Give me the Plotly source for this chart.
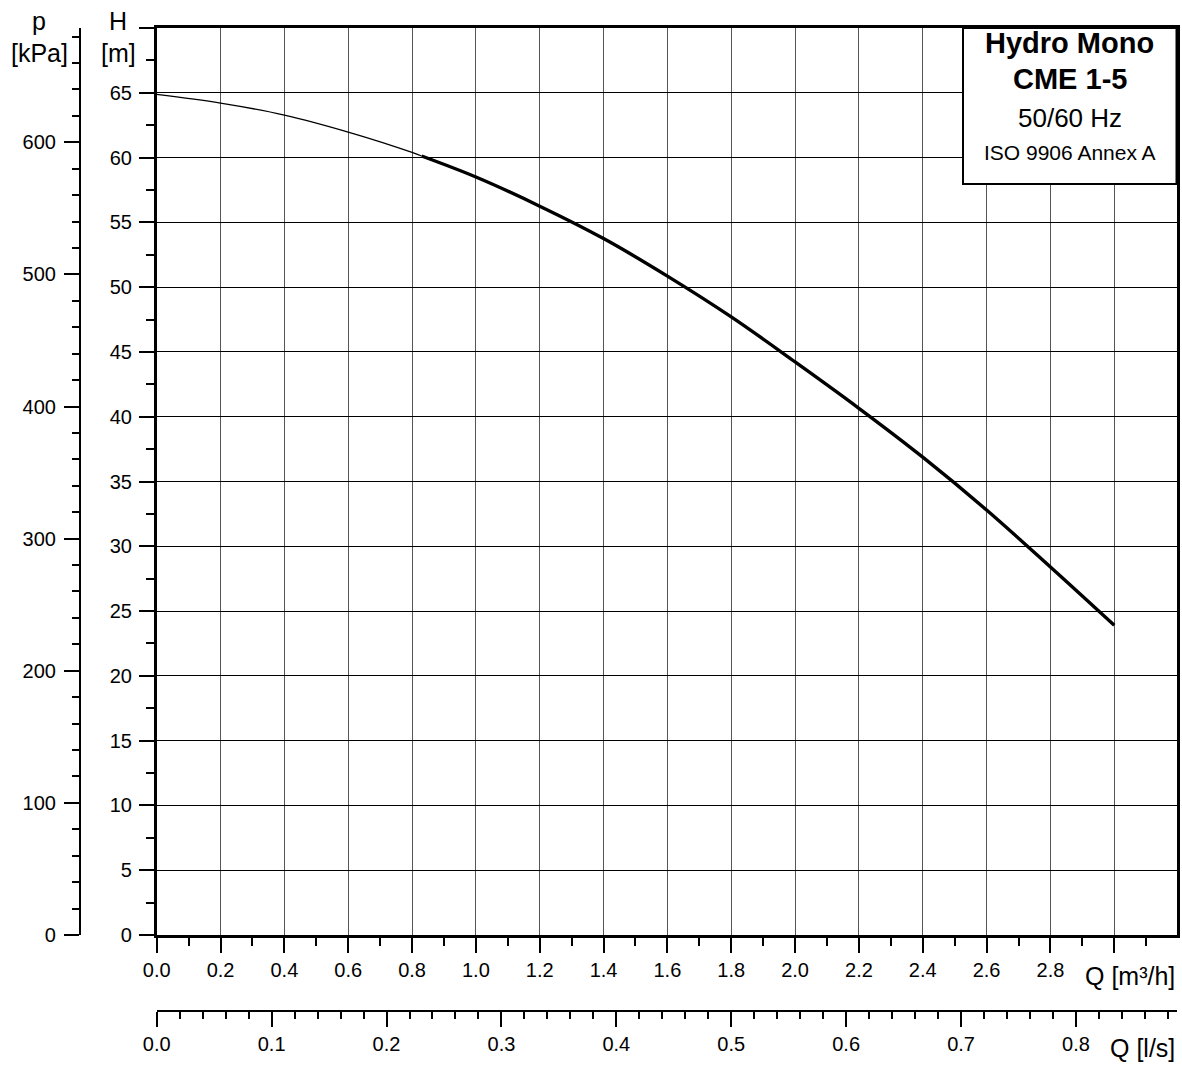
import plotly.graph_objects as go

W, HP = 1182, 1066

# ---- data ----
q_thin = [0.0, 0.2, 0.4, 0.6, 0.8, 0.83]
h_thin = [64.87, 64.2, 63.28, 61.97, 60.4, 60.12]
q_thick = [0.83, 1.0, 1.2, 1.4, 1.6, 1.8, 2.0, 2.2, 2.4, 2.6, 2.8, 3.0]
h_thick = [60.12, 58.5, 56.25, 53.75, 50.85, 47.7, 44.23, 40.65, 36.88, 32.8, 28.4, 23.9]

q_tick_vals = [0.0, 0.2, 0.4, 0.6, 0.8, 1.0, 1.2, 1.4, 1.6, 1.8, 2.0, 2.2, 2.4, 2.6, 2.8, 3.0]
q_tick_text = ["0.0", "0.2", "0.4", "0.6", "0.8", "1.0", "1.2", "1.4", "1.6", "1.8",
               "2.0", "2.2", "2.4", "2.6", "2.8", ""]
qls_tick_vals = [0.0, 0.1, 0.2, 0.3, 0.4, 0.5, 0.6, 0.7, 0.8]
qls_tick_text = ["0.0", "0.1", "0.2", "0.3", "0.4", "0.5", "0.6", "0.7", "0.8"]
h_tick_vals = [0, 5, 10, 15, 20, 25, 30, 35, 40, 45, 50, 55, 60, 65, 70]
h_tick_text = ["0", "5", "10", "15", "20", "25", "30", "35", "40", "45", "50", "55", "60", "65", ""]
p_tick_vals = [0, 100, 200, 300, 400, 500, 600]
p_tick_text = ["0", "100", "200", "300", "400", "500", "600"]

box_lines = ["<b>Hydro Mono</b>", "<b>CME 1-5</b>", "50/60 Hz", "ISO 9906 Annex A"]

M3H_PER_LS = 3.6
KPA_PER_M = 9.80665
Q_MAX = 3.195
H_MAX = 70

# minor tick positions
q_minor = [round(0.1 + 0.2 * i, 3) for i in range(16)]
qls_minor = [round(0.02 * i, 3) for i in range(1, 45) if i % 5 != 0]
h_minor = [2.5 + 5 * i for i in range(14)]
p_minor = [20 * i for i in range(1, 35) if i % 5 != 0]


def px(x):
    return x / W


def py(y):
    return 1 - y / HP


FONT = "Liberation Sans, Arial, sans-serif"

fig = go.Figure()
fig.add_trace(go.Scatter(x=q_thin, y=h_thin, mode="lines", line=dict(color="black", width=1.3, shape="spline"),
                         hoverinfo="skip", showlegend=False))
fig.add_trace(go.Scatter(x=q_thick, y=h_thick, mode="lines", line=dict(color="black", width=3.4, shape="spline"),
                         hoverinfo="skip", showlegend=False))
# invisible companion traces so the secondary axes are drawn
fig.add_trace(go.Scatter(x=[q / M3H_PER_LS for q in q_thick], y=h_thick, xaxis="x2", yaxis="y",
                         mode="lines", opacity=0, hoverinfo="skip", showlegend=False))
fig.add_trace(go.Scatter(x=q_thick, y=[h * KPA_PER_M for h in h_thick], xaxis="x", yaxis="y2",
                         mode="lines", opacity=0, hoverinfo="skip", showlegend=False))

xdom = [px(156.7), px(1176.5)]
ydom = [py(935), py(28)]

tickfont = dict(family=FONT, size=20, color="black")

fig.update_layout(
    width=W, height=HP, autosize=False,
    margin=dict(l=0, r=0, t=0, b=0, autoexpand=False),
    paper_bgcolor="white", plot_bgcolor="white",
    font=dict(family=FONT, color="black"),
    xaxis=dict(
        domain=xdom, range=[0, Q_MAX], anchor="y", automargin=False,
        tickmode="array", tickvals=q_tick_vals, ticktext=q_tick_text,
        ticks="outside", ticklen=15, tickwidth=2, tickcolor="black",
        minor=dict(tickmode="array", tickvals=q_minor, ticks="outside", ticklen=8, tickwidth=1.5,
                   tickcolor="black", showgrid=False),
        showgrid=True, gridcolor="#555555", gridwidth=1.4,
        showline=True, linecolor="black", linewidth=2.6, mirror=True,
        zeroline=False, tickfont=tickfont,
    ),
    xaxis2=dict(
        domain=xdom, range=[0, Q_MAX / M3H_PER_LS], overlaying="x", anchor="free", position=py(1011),
        side="bottom", automargin=False,
        tickmode="array", tickvals=qls_tick_vals, ticktext=qls_tick_text,
        ticks="outside", ticklen=15, tickwidth=2, tickcolor="black",
        minor=dict(tickmode="array", tickvals=qls_minor, ticks="outside", ticklen=7, tickwidth=1.5,
                   tickcolor="black", showgrid=False),
        showgrid=False, showline=True, linecolor="black", linewidth=2.4,
        zeroline=False, tickfont=tickfont,
    ),
    yaxis=dict(
        domain=ydom, range=[0, H_MAX], anchor="x", automargin=False,
        tickmode="array", tickvals=h_tick_vals, ticktext=h_tick_text,
        ticks="outside", ticklen=15, tickwidth=2, tickcolor="black",
        minor=dict(tickmode="array", tickvals=h_minor, ticks="outside", ticklen=8, tickwidth=1.5,
                   tickcolor="black", showgrid=False),
        showgrid=True, gridcolor="black", gridwidth=1,
        showline=True, linecolor="black", linewidth=2.6, mirror=True,
        zeroline=False, tickfont=tickfont, ticklabelstandoff=3,
    ),
    yaxis2=dict(
        domain=ydom, range=[0, H_MAX * KPA_PER_M], overlaying="y", anchor="free", position=px(80),
        side="left", automargin=False,
        tickmode="array", tickvals=p_tick_vals, ticktext=p_tick_text,
        ticks="outside", ticklen=15, tickwidth=2, tickcolor="black",
        minor=dict(tickmode="array", tickvals=p_minor, ticks="outside", ticklen=7, tickwidth=1.5,
                   tickcolor="black", showgrid=False),
        showgrid=False, showline=True, linecolor="black", linewidth=2.2,
        zeroline=False, tickfont=tickfont, ticklabelstandoff=4,
    ),
)

# info box
fig.add_shape(type="rect", xref="paper", yref="paper",
              x0=px(963), x1=px(1176.5), y0=py(184), y1=py(28),
              fillcolor="white", line=dict(color="black", width=2), layer="above")

box_cx = px(1069.5)
box_y = [43, 79, 118, 152]
box_size = [29, 29, 26, 21]
for txt, yy, sz in zip(box_lines, box_y, box_size):
    fig.add_annotation(x=box_cx, y=py(yy), xref="paper", yref="paper", text=txt, showarrow=False,
                       xanchor="center", yanchor="middle", font=dict(family=FONT, size=sz, color="black"))

titles = [
    ("p", 39, 20.5, "center"),
    ("[kPa]", 39, 52.5, "center"),
    ("H", 118, 20.5, "center"),
    ("[m]", 118, 52.5, "center"),
]
for txt, xx, yy, xa in titles:
    fig.add_annotation(x=px(xx), y=py(yy), xref="paper", yref="paper", text=txt, showarrow=False,
                       xanchor=xa, yanchor="middle", font=dict(family=FONT, size=25, color="black"))

fig.add_annotation(x=px(1177), y=py(976), xref="paper", yref="paper", text="Q [m³/h]", showarrow=False,
                   xanchor="right", yanchor="middle", font=dict(family=FONT, size=25, color="black"))
fig.add_annotation(x=px(1177), y=py(1048), xref="paper", yref="paper", text="Q [l/s]", showarrow=False,
                   xanchor="right", yanchor="middle", font=dict(family=FONT, size=25, color="black"))

fig.write_html("out.html")
